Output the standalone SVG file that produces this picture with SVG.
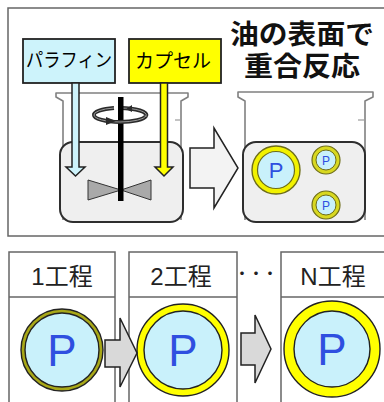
<svg xmlns="http://www.w3.org/2000/svg" width="384" height="402" viewBox="0 0 384 402">
  <style>
    .jp { font-family: "Noto Sans CJK JP", "Noto Sans", sans-serif; }
    .lat { font-family: "Liberation Sans", "Noto Sans CJK JP", sans-serif; }
    .frame { fill: #ffffff; stroke: #666666; stroke-width: 1.5; }
    .beaker { fill: none; stroke: #808080; stroke-width: 1.6; stroke-linejoin: round; }
    .tick { stroke: #9a9a9a; stroke-width: 1.2; }
    .liquid { fill: #efefef; stroke: #2e2e2e; stroke-width: 2; }
    .label { stroke: #222222; stroke-width: 1.8; }
    .ring { stroke: #222222; stroke-width: 1.4; }
    .core { fill: #c9f1fb; stroke: #222222; stroke-width: 1.4; }
    .p { fill: #2f4fe0; text-anchor: middle; font-family: "Liberation Sans", sans-serif; }
    .step { fill: #222222; font-size: 24px; text-anchor: middle; }
    .block { stroke: #222222; stroke-width: 1.5; stroke-linejoin: miter; }
    .title { font-family: "Liberation Sans", "Noto Sans CJK JP", sans-serif; font-size: 27px; font-weight: bold; fill: #111111; text-anchor: middle; }
  </style>

  <rect width="384" height="402" fill="#ffffff"/>

  <!-- upper panel: mixing and polymerisation -->
  <g id="upper-panel">
    <rect class="frame" x="8" y="8" width="392" height="228"/>
  </g>

  <g id="title">
    <text class="title" x="302" y="44" textLength="144" lengthAdjust="spacingAndGlyphs">油の表面で</text>
    <text class="title" x="302" y="76" textLength="116" lengthAdjust="spacingAndGlyphs">重合反応</text>
  </g>

  <!-- left beaker with stirrer -->
  <g id="mixing-beaker">
    <path class="beaker" d="M63,220 V101 L56,97 V93 H188 V97 L181,101 V220"/>
    <line class="tick" x1="175" y1="120" x2="181" y2="120"/>
    <rect class="liquid" x="60" y="142" width="123" height="80" rx="13"/>
    <!-- impeller -->
    <polygon points="88,180 121,190 88,200" fill="#a9a9a9" stroke="#333333" stroke-width="1"/>
    <polygon points="151,180 121,190 151,200" fill="#a9a9a9" stroke="#333333" stroke-width="1"/>
    <!-- rotation mark behind shaft -->
    <path d="M120,108 A27,7 0 0 1 146,116" fill="none" stroke="#2a2a2a" stroke-width="4"/>
    <path d="M120,108 A27,7 0 0 1 146,116" fill="none" stroke="#9a9a9a" stroke-width="1"/>
    <!-- shaft -->
    <rect x="118" y="97" width="5.5" height="104" fill="#000000"/>
    <!-- rotation mark in front of shaft -->
    <path d="M146,116 A27,7 0 0 1 120,122 A27,7 0 0 1 94,115 A27,7 0 0 1 114,108" fill="none" stroke="#2a2a2a" stroke-width="4"/>
    <path d="M146,116 A27,7 0 0 1 120,122 A27,7 0 0 1 94,115 A27,7 0 0 1 114,108" fill="none" stroke="#9a9a9a" stroke-width="1"/>
    <polygon points="106,117 116,121 106,125" fill="#2a2a2a"/>
    <polygon points="132,105 126,109 132,112" fill="#2a2a2a"/>
  </g>

  <!-- feed labels -->
  <g id="paraffin">
    <rect class="label" x="23" y="39" width="92" height="44" fill="#cdf3fb"/>
    <text class="jp" x="69" y="67" font-size="19" fill="#000000" text-anchor="middle" textLength="86" lengthAdjust="spacingAndGlyphs">パラフィン</text>
  </g>
  <g id="capsule">
    <rect class="label" x="129" y="39" width="92" height="44" fill="#ffff00"/>
    <text class="jp" x="173" y="68" font-size="19" fill="#000000" text-anchor="middle" textLength="76" lengthAdjust="spacingAndGlyphs">カプセル</text>
  </g>

  <!-- right beaker with capsules -->
  <g id="reaction-beaker">
    <path class="beaker" d="M245,220 V101 L238,97 V92 H373 V97 L365,101 V220"/>
    <line class="tick" x1="358" y1="120" x2="364" y2="120"/>
    <rect class="liquid" x="243" y="142" width="122" height="80" rx="13"/>
    <circle cx="276" cy="170" r="24" fill="#f2f200" stroke="#6d6d1a" stroke-width="1.4"/>
    <circle cx="276" cy="170" r="18.5" fill="#c9f1fb" stroke="#6d6d1a" stroke-width="1.2"/>
    <text class="p" x="276" y="178" font-size="22">P</text>
    <circle cx="326" cy="160" r="14" fill="#d8d820" stroke="#6d6d1a" stroke-width="1.2"/>
    <circle cx="326" cy="160" r="10" fill="#c9f1fb" stroke="#6d6d1a" stroke-width="1"/>
    <text class="p" x="326" y="164.5" font-size="12">P</text>
    <circle cx="326" cy="205" r="14" fill="#d8d820" stroke="#6d6d1a" stroke-width="1.2"/>
    <circle cx="326" cy="205" r="10" fill="#c9f1fb" stroke="#6d6d1a" stroke-width="1"/>
    <text class="p" x="326" y="209.5" font-size="12">P</text>
  </g>

  <!-- lower panel: repeated coating steps -->
  <g id="step-1">
    <rect class="frame" x="9" y="252" width="106" height="170"/>
    <line x1="9" y1="297" x2="115" y2="297" stroke="#666666" stroke-width="1.5"/>
    <text class="lat step" x="62" y="285">1工程</text>
    <circle class="ring" cx="62" cy="350" r="41" fill="#a8a818"/>
    <circle class="core" cx="62" cy="350" r="37"/>
    <text class="p" x="62" y="366" font-size="44">P</text>
  </g>

  <g id="step-2">
    <rect class="frame" x="129" y="252" width="108" height="170"/>
    <line x1="129" y1="297" x2="237" y2="297" stroke="#666666" stroke-width="1.5"/>
    <text class="lat step" x="181" y="285">2工程</text>
    <circle class="ring" cx="183" cy="350" r="46" fill="#ffff00"/>
    <circle class="core" cx="183" cy="350" r="39"/>
    <text class="p" x="183" y="366" font-size="44">P</text>
  </g>

  <g id="ellipsis">
    <text class="jp" x="256" y="278" font-size="14" font-weight="bold" fill="#222222" text-anchor="middle">・・・</text>
  </g>

  <g id="step-n">
    <rect class="frame" x="281" y="252" width="120" height="170"/>
    <line x1="281" y1="297" x2="401" y2="297" stroke="#666666" stroke-width="1.5"/>
    <text class="lat step" x="333" y="285">N工程</text>
    <circle class="ring" cx="332" cy="349" r="48" fill="#ffff00"/>
    <circle class="core" cx="332" cy="349" r="38"/>
    <text class="p" x="332" y="365" font-size="44">P</text>
  </g>

  <!-- connectors -->
  <g id="connectors">
    <polygon class="block" points="72,83 79,83 79,167 85,167 75.5,176 66,167 72,167" fill="#cdf3fb" stroke-width="1.2"/>
    <polygon class="block" points="160.5,83 167.5,83 167.5,167 173,167 164,176 155,167 160.5,167" fill="#ffff00" stroke-width="1.2"/>
    <polygon class="block" points="190,148 214,148 214,128 238,168 214,208 214,188 190,188" fill="#f3f3f3"/>
    <polygon class="block" points="105,340 120,340 120,318 137,353 120,387 120,367 105,367" fill="#d9d9d9"/>
    <polygon class="block" points="241,333 255,333 255,315 271,349 255,383 255,365 241,365" fill="#d9d9d9"/>
  </g>
</svg>
